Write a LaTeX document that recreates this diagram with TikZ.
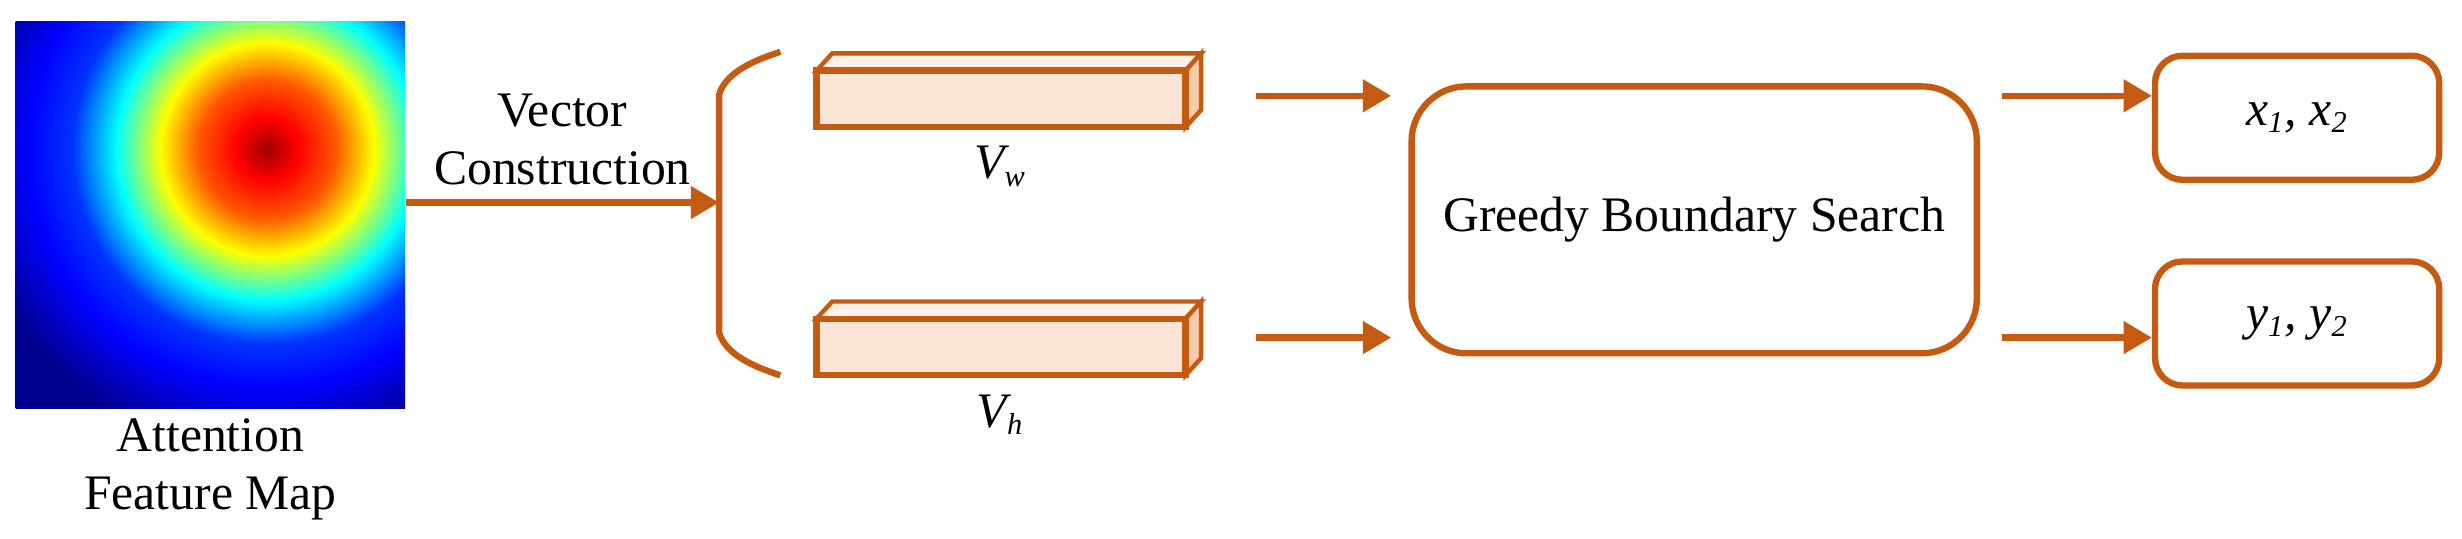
\documentclass[tikz,border=0pt]{standalone}
\usepackage{fontspec}
\setmainfont{Liberation Serif}
\usetikzlibrary{arrows.meta}
\definecolor{org}{HTML}{C55A11}
\definecolor{boxfill}{HTML}{FBE5D6}
\definecolor{topfill}{HTML}{FDF0E8}
\definecolor{sidefill}{HTML}{F8CBAD}
\definecolor{dkred}{HTML}{A00000}
\definecolor{dkblue}{HTML}{00008F}
\pgfdeclareradialshading{jetmap}{\pgfpoint{0bp}{0bp}}{%
 color(0bp)=(dkred); color(2.5bp)=(red); color(5.5bp)=(orange!70!red); color(8.5bp)=(yellow);
 color(12bp)=(cyan); color(15.5bp)=(blue!80!cyan); color(19bp)=(blue); color(24bp)=(dkblue); color(50bp)=(dkblue)}
\tikzset{
 ln/.style={draw=org, line width=2.3pt},
 arr/.style={org, line width=2.3pt, -{Triangle[length=0.36cm,width=0.4cm]}},
 txt/.style={font=\fontsize{18}{21}\selectfont, align=center, text=black},
 rbox/.style={ln, rounded corners=0.7cm, fill=white},
 sbox/.style={ln, rounded corners=0.35cm, fill=white},
}
\begin{document}
\begin{tikzpicture}[x=0.02cm,y=-0.02cm]
\useasboundingbox (0,0) rectangle (1568,343);
% heat map
\begin{scope}
\clip (10,14) rectangle (258,260);
\fill[dkblue] (10,14) rectangle (258,260);
\shade[shading=jetmap] (-30,-105) rectangle (370,295);
\end{scope}
\node[draw=none, minimum width=248*0.02cm, minimum height=246*0.02cm, inner sep=0] (hm) at (134,137) {};
\node[txt] (hml) at (134,299) {Attention\\Feature Map};
% bracket
\coordinate (bm) at (458,129);
\draw[ln] (497,33) .. controls (475,40) and (462,48) .. (458,60) -- (458,212) .. controls (462,224) and (475,232) .. (497,239);
\draw[arr] (hm.east |- bm) -- (bm) node[midway, above, txt, yshift=2pt] (vc) {Vector\\Construction};
% vectors
\foreach \n/\y in {vw/45, vh/203}{
 \draw[ln, fill=topfill, line width=1.6pt] (520,\y) -- (530,\y-11) -- (765,\y-11) -- (755,\y) -- cycle;
 \draw[ln, fill=sidefill, line width=1.6pt] (755,\y) -- (765,\y-11) -- (765,\y+25) -- (755,\y+36) -- cycle;
 \draw[ln, fill=boxfill] (520,\y) rectangle (755,\y+36);
}
\node[txt] (vwl) at (637,106) {\itshape V\textsubscript{\fontsize{11}{12}\selectfont w}};
\node[txt] (vhl) at (637,264) {\itshape V\textsubscript{\fontsize{11}{12}\selectfont h}};
% greedy box
\node[rbox, txt, minimum width=360*0.02cm, minimum height=170*0.02cm] (gbs) at (1079,140) {Greedy Boundary Search};
\coordinate (a1) at (800,61);
\coordinate (a2) at (800,215);
\draw[arr] (a1) -- (886,61);
\draw[arr] (a2) -- (886,215);
% outputs
\node[sbox, txt, minimum width=181*0.02cm, minimum height=79*0.02cm] (xo) at (1463,75) {\itshape x\textsubscript{\fontsize{11}{12}\selectfont 1}, x\textsubscript{\fontsize{11}{12}\selectfont 2}};
\node[sbox, txt, minimum width=181*0.02cm, minimum height=79*0.02cm] (yo) at (1463,206) {\itshape y\textsubscript{\fontsize{11}{12}\selectfont 1}, y\textsubscript{\fontsize{11}{12}\selectfont 2}};
\coordinate (b1) at (1275,61);
\coordinate (b2) at (1275,215);
\draw[arr] (b1) -- (xo.west |- b1);
\draw[arr] (b2) -- (yo.west |- b2);
\end{tikzpicture}
\end{document}
